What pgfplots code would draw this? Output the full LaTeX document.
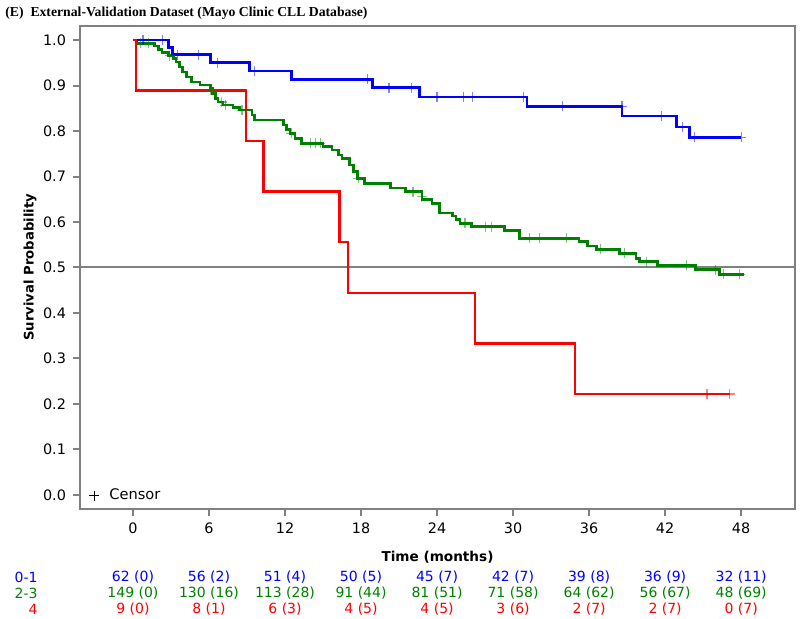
\documentclass[border=0pt]{standalone}
\usepackage{fontspec}
\setmainfont{DejaVu Sans}
\newfontfamily\titlefont{Liberation Serif}
\usepackage{pgfplots}
\pgfplotsset{compat=1.18}
\definecolor{kmblue}{RGB}{0,0,255}
\definecolor{kmgreen}{RGB}{0,128,0}
\definecolor{kmred}{RGB}{255,0,0}
\definecolor{framegray}{RGB}{128,128,128}
\newcommand{\riskfont}{\fontsize{7}{8}\selectfont}
\newcommand{\rk}[4]{\node[text=#1, font=\riskfont, inner sep=0pt] at (axis cs:#2,-0.031) [yshift=#3] {#4};}

\begin{document}
\begin{tikzpicture}
\useasboundingbox (-40pt,-54.5pt) rectangle (360pt,254.5pt);
\begin{axis}[
  scale only axis, width=357.5pt, height=241.75pt,
  xmin=-4.18, xmax=52.25, ymin=-0.031, ymax=1.032,
  xtick={0,6,12,18,24,30,36,42,48},
  ytick={0,0.1,0.2,0.3,0.4,0.5,0.6,0.7,0.8,0.9,1.0},
  yticklabel style={/pgf/number format/.cd, fixed, fixed zerofill, precision=1},
  /pgf/number format/assume math mode=true,
  tick label style={font=\fontsize{7.2}{8.6}\selectfont, text=black},
  xtick pos=lower, ytick pos=left,
  tick align=outside, major tick length=3.5pt,
  tick style={framegray, line width=1pt},
  axis line style={framegray, line width=1pt},
  clip=false,
  xlabel={\bfseries Time (months)},
  ylabel={\bfseries Survival Probability},
  x label style={at={(axis description cs:0.5,0)}, anchor=center, yshift=-24pt, font=\fontsize{6.8}{8}\selectfont},
  y label style={at={(axis description cs:0,0.5)}, anchor=center, yshift=25pt, font=\fontsize{6.6}{8}\selectfont},
  legend style={at={(axis description cs:0,0)}, anchor=south west, draw=none, fill=none, xshift=1.5pt, yshift=-1pt, font=\fontsize{7.3}{8.5}\selectfont},
  legend cell align=left,
]
\addlegendimage{legend image code/.code={\draw[mark=+, mark size=2.5pt, mark options={black, line width=0.5pt}] plot coordinates {(0.25cm,0pt)};}}
\addlegendentry{\hspace{3pt}Censor}

% reference line
\addplot[forget plot, framegray, line width=1pt] coordinates {(-4.18,0.5) (52.25,0.5)};

% green 2-3
\addplot[forget plot, const plot, kmgreen, line width=1.35pt] coordinates {
(0,1.0) (0.3,0.993) (1.7,0.987) (2.0,0.980) (2.3,0.973) (2.8,0.966) (3.2,0.959)
(3.4,0.952) (3.7,0.941) (3.9,0.930) (4.2,0.919) (4.6,0.908) (5.3,0.901) (6.1,0.894)
(6.3,0.883) (6.5,0.872) (6.7,0.864) (7.1,0.857) (7.9,0.851) (8.4,0.846) (9.4,0.835)
(9.6,0.824) (11.9,0.813) (12.1,0.804) (12.4,0.795) (12.8,0.784) (13.3,0.773)
(15.0,0.766) (15.7,0.758) (16.2,0.747) (16.5,0.740) (17.1,0.725) (17.4,0.711)
(17.7,0.696) (18.3,0.685) (20.3,0.675) (21.5,0.667) (22.8,0.650) (23.6,0.640)
(24.2,0.620) (25.2,0.613) (25.5,0.606) (25.8,0.597) (26.7,0.590) (29.3,0.581)
(30.5,0.564) (35.2,0.557) (35.9,0.547) (36.6,0.540) (38.4,0.531) (39.7,0.520)
(40.0,0.513) (41.4,0.505) (44.4,0.495) (46.3,0.485) (48.2,0.485)};
\addplot[forget plot, only marks, mark=+, mark size=2.5pt, kmgreen, opacity=0.5, mark options={line width=0.6pt}] coordinates {
(0.6,0.993) (1.2,0.993) (2.9,0.966) (6.1,0.890) (7.0,0.864) (7.3,0.857) (8.6,0.846)
(12.5,0.795) (14.0,0.773) (14.4,0.773) (14.8,0.773) (17.8,0.696) (22.1,0.667)
(22.8,0.656) (26.2,0.597) (27.8,0.590) (28.3,0.590) (31.3,0.564) (32.1,0.564)
(34.2,0.564) (36.9,0.540) (38.8,0.531) (40.5,0.513) (43.7,0.505) (46.0,0.495)
(46.6,0.485) (47.9,0.485)};

% blue 0-1
\addplot[forget plot, const plot, kmblue, line width=1.4pt] coordinates {
(0,1.0) (2.8,0.984) (3.1,0.968) (6.1,0.950) (9.2,0.932) (12.5,0.914) (18.9,0.895)
(22.6,0.875) (31.1,0.854) (38.6,0.833) (42.9,0.809) (43.9,0.786) (48.0,0.786)};
\addplot[forget plot, only marks, mark=+, mark size=2.5pt, kmblue, opacity=0.5, mark options={line width=0.6pt}] coordinates {
(0.8,1.0) (2.3,1.0) (3.5,0.968) (5.2,0.968) (6.7,0.950) (9.6,0.932) (18.5,0.914)
(20.2,0.895) (22.0,0.895) (24.0,0.875) (26.1,0.875) (26.8,0.875) (30.8,0.875)
(33.9,0.854) (38.6,0.854) (41.7,0.833) (43.4,0.809) (44.3,0.786) (48.0,0.786)};

% red 4
\addplot[forget plot, const plot, kmred, line width=1.1pt] coordinates {
(0,1.0) (0.24,0.889) (8.9,0.778) (10.3,0.667) (16.3,0.556) (17.0,0.444)
(27.0,0.333) (34.9,0.222) (47.1,0.222)};
\addplot[forget plot, only marks, mark=+, mark size=2.5pt, kmred, opacity=0.5, mark options={line width=0.6pt}] coordinates {
(45.3,0.222) (47.1,0.222)};

% title
\node[anchor=base west, font=\titlefont\bfseries\fontsize{6.85}{8.2}\selectfont, inner sep=0pt] at (rel axis cs:0,1) [xshift=-37.5pt, yshift=4.6pt] {(E)\ \ External-Validation Dataset (Mayo Clinic CLL Database)};

% at-risk table
\node[anchor=east, text=kmblue, font=\riskfont, inner sep=0pt] at (rel axis cs:0,0) [xshift=-21pt, yshift=-34pt] {0-1};
\node[anchor=east, text=kmgreen, font=\riskfont, inner sep=0pt] at (rel axis cs:0,0) [xshift=-21pt, yshift=-42pt] {2-3};
\node[anchor=east, text=kmred, font=\riskfont, inner sep=0pt] at (rel axis cs:0,0) [xshift=-21pt, yshift=-50pt] {4};
\rk{kmblue}{0}{-34pt}{62 (0)}
\rk{kmblue}{6}{-34pt}{56 (2)}
\rk{kmblue}{12}{-34pt}{51 (4)}
\rk{kmblue}{18}{-34pt}{50 (5)}
\rk{kmblue}{24}{-34pt}{45 (7)}
\rk{kmblue}{30}{-34pt}{42 (7)}
\rk{kmblue}{36}{-34pt}{39 (8)}
\rk{kmblue}{42}{-34pt}{36 (9)}
\rk{kmblue}{48}{-34pt}{32 (11)}
\rk{kmgreen}{0}{-42pt}{149 (0)}
\rk{kmgreen}{6}{-42pt}{130 (16)}
\rk{kmgreen}{12}{-42pt}{113 (28)}
\rk{kmgreen}{18}{-42pt}{91 (44)}
\rk{kmgreen}{24}{-42pt}{81 (51)}
\rk{kmgreen}{30}{-42pt}{71 (58)}
\rk{kmgreen}{36}{-42pt}{64 (62)}
\rk{kmgreen}{42}{-42pt}{56 (67)}
\rk{kmgreen}{48}{-42pt}{48 (69)}
\rk{kmred}{0}{-50pt}{9 (0)}
\rk{kmred}{6}{-50pt}{8 (1)}
\rk{kmred}{12}{-50pt}{6 (3)}
\rk{kmred}{18}{-50pt}{4 (5)}
\rk{kmred}{24}{-50pt}{4 (5)}
\rk{kmred}{30}{-50pt}{3 (6)}
\rk{kmred}{36}{-50pt}{2 (7)}
\rk{kmred}{42}{-50pt}{2 (7)}
\rk{kmred}{48}{-50pt}{0 (7)}
\end{axis}
\end{tikzpicture}
\end{document}
